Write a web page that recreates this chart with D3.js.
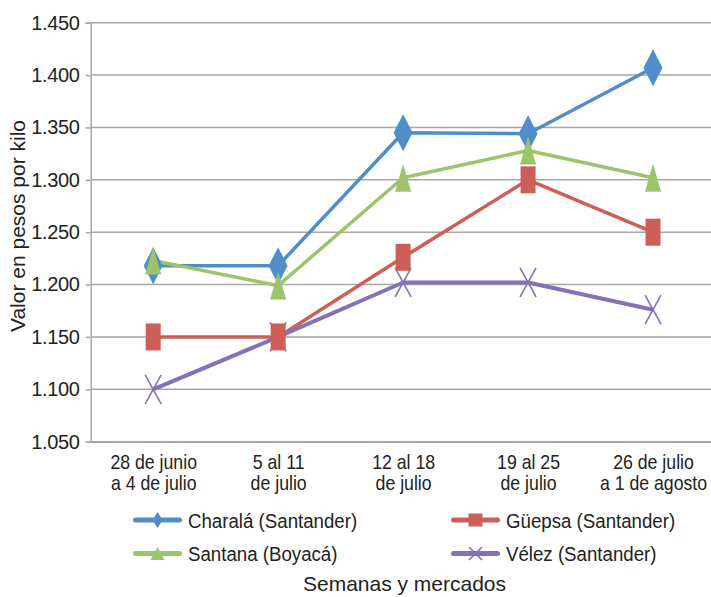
<!DOCTYPE html>
<html><head><meta charset="utf-8">
<script src="https://cdn.jsdelivr.net/npm/d3@7"></script>
<style>
html,body{margin:0;padding:0;background:#fff;}
svg{display:block;}
</style></head>
<body>
<svg id="chart" width="711" height="597"></svg>
<script>
const categories = [["28 de junio","a 4 de julio"],["5 al 11","de julio"],["12 al 18","de julio"],["19 al 25","de julio"],["26 de julio","a 1 de agosto"]];
const seriesNames = ["Charalá (Santander)","Güepsa (Santander)","Santana (Boyacá)","Vélez (Santander)"];
const charala = [1218,1218,1345,1344,1407];
const guepsa  = [1150,1150,1226,1300,1250];
const santana = [1223,1199,1302,1328,1302];
const velez   = [1100,1150,1202,1202,1176];
const yTicks = [1050,1100,1150,1200,1250,1300,1350,1400,1450];

const colors = ["#4F8EC9","#CD5F58","#9CC46B","#8571B6"];
const shapes = ["diamond","square","triangle","x"];
const data = [charala,guepsa,santana,velez];

const svg = d3.select("#chart");
const loc = d3.formatLocale({decimal:",",thousands:".",grouping:[3],currency:["$",""]});
const fmt = loc.format(",d");
const FONT = "Liberation Sans, Arial, sans-serif";

const pLeft=90.7, pRight=715.5, pTop=22.7, pBottom=441.7;
const x = d3.scalePoint().domain(d3.range(categories.length)).range([pLeft,pRight]).padding(0.5);
const y = d3.scaleLinear().domain([1050,1450]).range([pBottom,pTop]);

// gridlines
svg.append("g").selectAll("line").data(yTicks).join("line")
  .attr("x1",pLeft).attr("x2",711).attr("y1",d=>y(d)).attr("y2",d=>y(d))
  .attr("stroke","#A6A6A6").attr("stroke-width",1.5);

// y axis
const yAxis = d3.axisLeft(y).tickValues(yTicks).tickFormat(fmt).tickSize(5).tickPadding(6);
const gy = svg.append("g").attr("transform",`translate(${pLeft},0)`).call(yAxis);
gy.select(".domain").attr("stroke","#A6A6A6").attr("stroke-width",1.5);
gy.selectAll(".tick line").attr("stroke","#A6A6A6").attr("stroke-width",1.5);
gy.selectAll(".tick text").attr("font-family",FONT).attr("font-size",20).attr("fill","#222").attr("letter-spacing","-0.3");

// x axis
const gx = svg.append("g").attr("transform",`translate(0,${pBottom})`)
  .call(d3.axisBottom(x).tickSize(0).tickFormat(()=>""));
gx.select(".domain").attr("stroke","#A6A6A6").attr("stroke-width",1.5);
gx.selectAll(".tick").each(function(d){
  const t = d3.select(this).select("text").text(null)
    .attr("font-family",FONT).attr("font-size",20).attr("fill","#222")
    .attr("y",null).attr("dy",null).attr("transform","scale(0.885,1)");
  categories[d].forEach((s,i)=>t.append("tspan").attr("x",0).attr("y",27+i*21).text(s));
});

// y label
svg.append("text").attr("transform",`translate(25,226) rotate(-90)`)
  .attr("text-anchor","middle").attr("font-family",FONT)
  .attr("font-size",21).attr("fill","#222").text("Valor en pesos por kilo");

// x title
svg.append("text").attr("x",404.5).attr("y",591).attr("text-anchor","middle")
  .attr("font-family",FONT).attr("font-size",21).attr("fill","#222")
  .text("Semanas y mercados");

// lines
const line = d3.line().x((d,i)=>x(i)).y(d=>y(d));
data.forEach((s,k)=>{
  svg.append("path").datum(s).attr("d",line).attr("fill","none")
    .attr("stroke",colors[k]).attr("stroke-width",k===3?4:3.5).attr("stroke-linejoin","round");
});

function marker(g, shape, color, w, h){
  if(shape==="diamond") g.append("path").attr("d",`M0,${-h/2}L${w/2},0L0,${h/2}L${-w/2},0Z`).attr("fill",color);
  else if(shape==="square") g.append("rect").attr("x",-w/2).attr("y",-h/2).attr("width",w).attr("height",h).attr("fill",color);
  else if(shape==="triangle") g.append("path").attr("d",`M0,${-h/2}L${w/2},${h/2}L${-w/2},${h/2}Z`).attr("fill",color);
  else g.append("path").attr("d",`M${-w/2},${-h/2}L${w/2},${h/2}M${w/2},${-h/2}L${-w/2},${h/2}`).attr("stroke",color).attr("stroke-width",1.6).attr("fill","none");
}
const msize = {diamond:[19,37],square:[15,27],triangle:[16,28],x:[16,29]};
[3,0,1,2].forEach(k=>{
  data[k].forEach((v,i)=>{
    const g = svg.append("g").attr("transform",`translate(${x(i)},${y(v)})`);
    marker(g, shapes[k], colors[k], msize[shapes[k]][0], msize[shapes[k]][1]);
  });
});

// legend
const legPos = [[134,520],[452,520],[134,553.5],[452,553.5]];
const lsize = {diamond:[10,16],square:[14,13],triangle:[14,13],x:[13,13]};
seriesNames.forEach((n,k)=>{
  const [lx,ly] = legPos[k];
  const g = svg.append("g").attr("transform",`translate(${lx},${ly})`);
  g.append("line").attr("x1",1.5).attr("x2",45.5).attr("y1",0).attr("y2",0).attr("stroke",colors[k]).attr("stroke-width",5).attr("stroke-linecap","round");
  const m = g.append("g").attr("transform","translate(23.5,0)");
  marker(m, shapes[k], colors[k], lsize[shapes[k]][0], lsize[shapes[k]][1]);
  g.append("text").attr("transform","translate(54,7.5) scale(0.89,1)").attr("font-family",FONT)
    .attr("font-size",21).attr("fill","#222").text(n);
});
</script>
</body></html>
